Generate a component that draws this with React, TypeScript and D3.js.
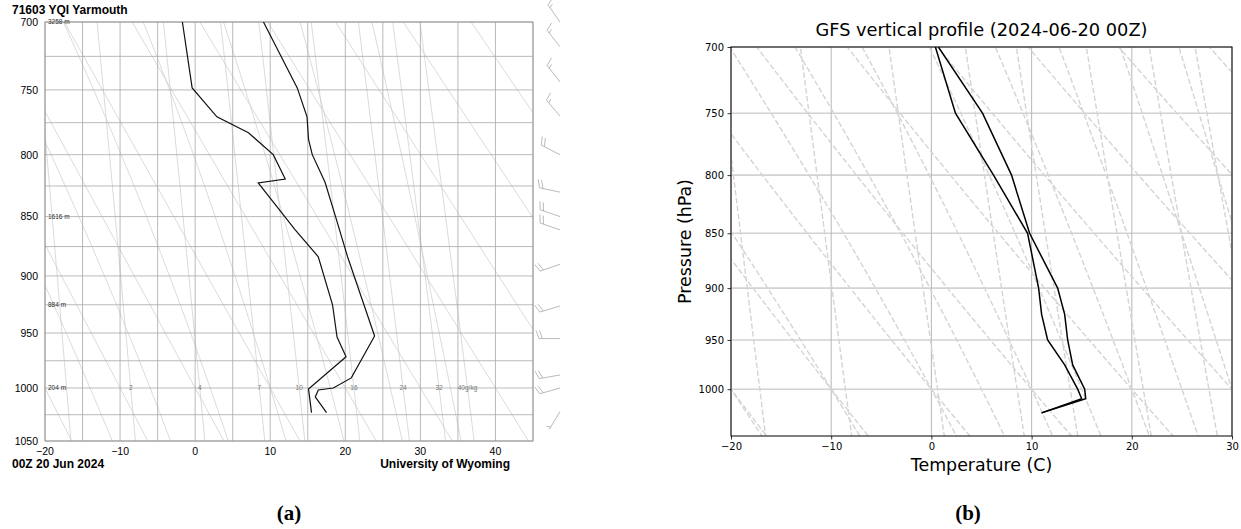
import { useEffect, useRef } from "react";
import * as d3 from "d3";

// ---- (a) University of Wyoming sounding, 71603 YQI Yarmouth ----
const obsTempPressure = [700, 748.5, 770.5, 788, 800, 822, 850, 883.6, 952.7, 990.7, 1000, 1001.9, 1008.3, 1023];
const obsTemp = [9.1, 13.6, 14.9, 15.1, 15.6, 17.3, 18.7, 20.3, 23.9, 20.8, 18.4, 16.4, 16.0, 17.5];
const obsDewPressure = [700, 748.5, 770.5, 782.8, 800, 819.4, 822.6, 860.8, 883.6, 925, 953.6, 971.4, 1000.9, 1023];
const obsDew = [-1.7, -0.4, 2.9, 7.1, 10.4, 12.0, 8.4, 13.3, 16.4, 18.3, 18.9, 20.1, 15.1, 15.5];

const barbPressure = [700, 718, 744, 770, 800, 830, 850, 861, 890, 926, 955, 988, 1000, 1022];
const barbDirection = [325, 322, 322, 320, 297, 282, 289, 289, 251, 253, 270, 260, 254, 211];
const barbSpeed = [15, 15, 15, 15, 20, 20, 20, 20, 20, 20, 20, 20, 20, 5];

const heightPressure = [700, 850, 925, 1000];
const heightText = ["3258 m", "1616 m", "884 m", "204 m"];

const isobarsA = [700, 725, 750, 775, 800, 825, 850, 875, 900, 925, 950, 975, 1000, 1025, 1050];
const isothermsA = [-20, -15, -10, -5, 0, 5, 10, 15, 20, 25, 30, 35, 40, 45];
const pressureTicksA = [700, 750, 800, 850, 900, 950, 1000, 1050];
const tempTicksA = [-20, -10, 0, 10, 20, 30, 40];
const dryAdiabatsA = [-20, -10, 0, 10, 20, 30, 40, 50, 60, 70, 80, 90, 100];
const moistAdiabatsA = [-14, -6, 2, 10, 18, 26, 34];
const mixingRatiosA = [1, 2, 4, 7, 10, 16, 24, 32, 40];
const mixingLabelsA = ["", "2", "4", "7", "10", "16", "24", "32", "40g/kg"];

// ---- (b) GFS vertical profile ----
const gfsPressure = [700, 750, 800, 850, 900, 925, 950, 975, 1000, 1010, 1025];
const gfsTemp = [0.7, 5.1, 8.0, 9.8, 12.6, 13.3, 13.6, 14.1, 15.3, 15.4, 11.0];
const gfsDew = [0.4, 2.4, 6.2, 9.6, 10.7, 11.0, 11.6, 13.3, 14.6, 15.0, 11.0];

const pressureTicksB = [700, 750, 800, 850, 900, 950, 1000];
const tempTicksB = [-20, -10, 0, 10, 20, 30];
const dryAdiabatsB = [-30, -20, -10, 0, 10, 20, 30, 40, 50, 60, 70, 80, 90, 100, 110, 120];
const moistAdiabatsB = [-50, -40, -30, -20, -10, 0, 5, 10, 15, 20, 25, 30, 35, 40];
const mixingRatiosB = [0.4, 1, 2, 4, 7, 10, 16, 24, 32];

type PT = { p: number; t: number };

const KAPPA = 0.2857;
const Rd = 287.04;
const Cp = 1005.7;
const Lv = 2.501e6;
const EPS = 0.622;

const satVap = (tc: number) => 6.112 * Math.exp((17.67 * tc) / (tc + 243.5));

function dryLine(thetaC: number, ps: number[]): PT[] {
  return ps.map((p) => ({ p, t: (thetaC + 273.15) * Math.pow(p / 1000, KAPPA) - 273.15 }));
}

function mixingLine(w: number, ps: number[]): PT[] {
  return ps.map((p) => {
    const e = (w * p) / (622 + w);
    const l = Math.log(e / 6.112);
    return { p, t: (243.5 * l) / (17.67 - l) };
  });
}

function moistSlope(p: number, tK: number) {
  const e = satVap(tK - 273.15);
  const rs = (EPS * e) / (p - e);
  return (Rd * tK + Lv * rs) / (Cp + (Lv * Lv * rs * EPS) / (Rd * tK * tK)) / p;
}

function integrate(t0: number, pFrom: number, pTo: number, h: number): PT[] {
  const out: PT[] = [];
  let t = t0 + 273.15;
  let p = pFrom;
  out.push({ p, t: t0 });
  const n = Math.ceil(Math.abs(pTo - pFrom) / Math.abs(h));
  for (let i = 0; i < n; i++) {
    const k1 = moistSlope(p, t);
    const k2 = moistSlope(p + h / 2, t + (h / 2) * k1);
    const k3 = moistSlope(p + h / 2, t + (h / 2) * k2);
    const k4 = moistSlope(p + h, t + h * k3);
    t += (h / 6) * (k1 + 2 * k2 + 2 * k3 + k4);
    p += h;
    out.push({ p, t: t - 273.15 });
  }
  return out;
}

function moistLine(t0: number, pTop: number, pBottom: number): PT[] {
  const up = integrate(t0, 1000, pTop, -2).reverse();
  const down = integrate(t0, 1000, pBottom, 2).slice(1);
  return up.concat(down);
}

const minus = (v: number) => String(v).replace("-", "\u2212");

function drawBarb(
  g: d3.Selection<SVGGElement, unknown, null, undefined>,
  x0: number,
  y0: number,
  dir: number,
  speed: number
) {
  const L = 21;
  const rad = (dir * Math.PI) / 180;
  const ux = Math.sin(rad);
  const uy = -Math.cos(rad);
  const px = -uy;
  const py = ux;
  const tx = x0 + ux * L;
  const ty = y0 + uy * L;
  const stroke = "#a8a8a8";
  g.append("line")
    .attr("x1", x0).attr("y1", y0).attr("x2", tx).attr("y2", ty)
    .attr("stroke", stroke).attr("stroke-width", 0.8);
  let rest = speed;
  let pos = 0;
  if (rest < 10) pos = 3;
  while (rest >= 10) {
    const sx = tx - ux * pos;
    const sy = ty - uy * pos;
    g.append("line")
      .attr("x1", sx).attr("y1", sy)
      .attr("x2", sx + px * 8 + ux * 3).attr("y2", sy + py * 8 + uy * 3)
      .attr("stroke", stroke).attr("stroke-width", 0.8);
    pos += 3.5;
    rest -= 10;
  }
  if (rest >= 5) {
    const sx = tx - ux * pos;
    const sy = ty - uy * pos;
    g.append("line")
      .attr("x1", sx).attr("y1", sy)
      .attr("x2", sx + px * 4 + ux * 1.5).attr("y2", sy + py * 4 + uy * 1.5)
      .attr("stroke", stroke).attr("stroke-width", 0.8);
  }
}

export default function App() {
  const ref = useRef<SVGSVGElement>(null);

  useEffect(() => {
    if (!ref.current) return;
    const svg = d3.select(ref.current);
    svg.selectAll("*").remove();
    const defs = svg.append("defs");

    // ================= panel (a) =================
    const ax = { left: 45, right: 533, top: 22, bottom: 441 };
    const xA = d3.scaleLinear().domain([-20, 45]).range([ax.left, ax.right]);
    const yA = d3.scalePow().exponent(0.286).domain([700, 1050]).range([ax.top, ax.bottom]);
    defs.append("clipPath").attr("id", "clipA").append("rect")
      .attr("x", ax.left).attr("y", ax.top)
      .attr("width", ax.right - ax.left).attr("height", ax.bottom - ax.top);

    const gA = svg.append("g").style("font-family", "'Liberation Sans', Arial, sans-serif");
    const lineA = d3.line<PT>().x((d) => xA(d.t)).y((d) => yA(d.p));
    const psA = d3.range(690, 1061, 5);

    const iso = gA.append("g").attr("clip-path", "url(#clipA)")
      .attr("fill", "none").attr("stroke", "#cdcdcd").attr("stroke-width", 0.75);
    dryAdiabatsA.forEach((th) => iso.append("path").attr("d", lineA(dryLine(th, psA))));
    moistAdiabatsA.forEach((t0) => iso.append("path").attr("d", lineA(moistLine(t0, 690, 1060))));
    mixingRatiosA.forEach((w) => iso.append("path").attr("d", lineA(mixingLine(w, psA))));

    const grid = gA.append("g").attr("stroke", "#a8a8a8").attr("stroke-width", 0.8);
    isobarsA.forEach((p) =>
      grid.append("line").attr("x1", ax.left).attr("x2", ax.right).attr("y1", yA(p)).attr("y2", yA(p))
    );
    isothermsA.forEach((t) =>
      grid.append("line").attr("x1", xA(t)).attr("x2", xA(t)).attr("y1", ax.top).attr("y2", ax.bottom)
    );
    gA.append("rect")
      .attr("x", ax.left).attr("y", ax.top)
      .attr("width", ax.right - ax.left).attr("height", ax.bottom - ax.top)
      .attr("fill", "none").attr("stroke", "#999").attr("stroke-width", 1);

    // mixing ratio labels along 1000 hPa
    mixingRatiosA.forEach((w, i) => {
      if (!mixingLabelsA[i]) return;
      gA.append("text")
        .attr("x", xA(mixingLine(w, [1000])[0].t)).attr("y", yA(1000) + 2.3)
        .attr("text-anchor", "middle").attr("font-size", 6.5).attr("fill", "#777")
        .text(mixingLabelsA[i]);
    });
    // height labels
    heightPressure.forEach((p, i) => {
      gA.append("text")
        .attr("x", ax.left + 3).attr("y", yA(p) + 2.3)
        .attr("font-size", 6.5).attr("fill", "#333")
        .text(heightText[i]);
    });

    // profiles
    const profA = gA.append("g").attr("fill", "none").attr("stroke", "#111").attr("stroke-width", 1.2);
    profA.append("path").attr("d", lineA(obsTempPressure.map((p, i) => ({ p, t: obsTemp[i] }))));
    profA.append("path").attr("d", lineA(obsDewPressure.map((p, i) => ({ p, t: obsDew[i] }))));

    // axes labels
    pressureTicksA.forEach((p) =>
      gA.append("text").attr("x", 38).attr("y", yA(p) + 3.9)
        .attr("text-anchor", "end").attr("font-size", 10.5).text(String(p))
    );
    tempTicksA.forEach((t) =>
      gA.append("text").attr("x", xA(t)).attr("y", 455)
        .attr("text-anchor", "middle").attr("font-size", 10.5).text(minus(t))
    );
    gA.append("text").attr("x", 12).attr("y", 14)
      .attr("font-size", 12).attr("font-weight", "bold").text("71603 YQI Yarmouth");
    gA.append("text").attr("x", 12).attr("y", 468)
      .attr("font-size", 12).attr("font-weight", "bold").text("00Z 20 Jun 2024");
    gA.append("text").attr("x", 510).attr("y", 468).attr("text-anchor", "end")
      .attr("font-size", 12).attr("font-weight", "bold").text("University of Wyoming");

    // wind barbs
    const barbs = gA.append("g");
    barbPressure.forEach((p, i) => drawBarb(barbs, 560, yA(p), barbDirection[i], barbSpeed[i]));

    // ================= panel (b) =================
    const bx = { left: 731, right: 1232, top: 47, bottom: 436 };
    const xB = d3.scaleLinear().domain([-20, 30]).range([bx.left, bx.right]);
    const yB = d3.scaleLog().domain([700, 1050]).range([bx.top, bx.bottom]);
    defs.append("clipPath").attr("id", "clipB").append("rect")
      .attr("x", bx.left).attr("y", bx.top)
      .attr("width", bx.right - bx.left).attr("height", bx.bottom - bx.top);

    const gB = svg.append("g").style("font-family", "'DejaVu Sans', sans-serif");
    const lineB = d3.line<PT>().x((d) => xB(d.t)).y((d) => yB(d.p));
    const psB = d3.range(690, 1061, 5);

    const gridB = gB.append("g");
    pressureTicksB.forEach((p) =>
      gridB.append("line").attr("x1", bx.left).attr("x2", bx.right).attr("y1", yB(p)).attr("y2", yB(p))
        .attr("stroke", "#d2d2d2").attr("stroke-width", 1.6)
    );
    tempTicksB.forEach((t) =>
      gridB.append("line").attr("x1", xB(t)).attr("x2", xB(t)).attr("y1", bx.top).attr("y2", bx.bottom)
        .attr("stroke", "#bdbdbd").attr("stroke-width", 1.1)
    );

    const isoB = gB.append("g").attr("clip-path", "url(#clipB)")
      .attr("fill", "none").attr("stroke", "#d4d4d4").attr("stroke-width", 1.4)
      .attr("stroke-dasharray", "5.5,2.4");
    dryAdiabatsB.forEach((th) => isoB.append("path").attr("d", lineB(dryLine(th, psB))));
    moistAdiabatsB.forEach((t0) => isoB.append("path").attr("d", lineB(moistLine(t0, 690, 1060))));
    mixingRatiosB.forEach((w) => isoB.append("path").attr("d", lineB(mixingLine(w, psB))));

    const profB = gB.append("g").attr("clip-path", "url(#clipB)")
      .attr("fill", "none").attr("stroke", "#000").attr("stroke-width", 1.5);
    profB.append("path").attr("d", lineB(gfsPressure.map((p, i) => ({ p, t: gfsTemp[i] }))));
    profB.append("path").attr("d", lineB(gfsPressure.map((p, i) => ({ p, t: gfsDew[i] }))));

    gB.append("rect")
      .attr("x", bx.left).attr("y", bx.top)
      .attr("width", bx.right - bx.left).attr("height", bx.bottom - bx.top)
      .attr("fill", "none").attr("stroke", "#000").attr("stroke-width", 1);

    const xAxisB = gB.append("g").attr("transform", `translate(0,${bx.bottom})`)
      .call(d3.axisBottom(xB).tickValues(tempTicksB).tickSize(3.5).tickPadding(3.5).tickSizeOuter(0));
    const yAxisB = gB.append("g").attr("transform", `translate(${bx.left},0)`)
      .call(
        d3.axisLeft(yB).tickValues(pressureTicksB).tickFormat((d) => String(d))
          .tickSize(3.5).tickPadding(3.5).tickSizeOuter(0)
      );
    [xAxisB, yAxisB].forEach((a) => {
      a.select(".domain").remove();
      a.selectAll("text").attr("font-size", 10).attr("font-family", "'DejaVu Sans', sans-serif").attr("fill", "#000");
      a.selectAll("line").attr("stroke", "#000").attr("stroke-width", 0.8);
    });

    gB.append("text").attr("x", (bx.left + bx.right) / 2).attr("y", 36)
      .attr("text-anchor", "middle").attr("font-size", 17.8).text("GFS vertical profile (2024-06-20 00Z)");
    gB.append("text").attr("x", (bx.left + bx.right) / 2).attr("y", 471)
      .attr("text-anchor", "middle").attr("font-size", 17.4).text("Temperature (C)");
    gB.append("text")
      .attr("transform", `translate(691,${(bx.top + bx.bottom) / 2}) rotate(-90)`)
      .attr("text-anchor", "middle").attr("font-size", 17.4).text("Pressure (hPa)");

    // ================= sub-figure captions =================
    svg.append("text").attr("x", 289).attr("y", 520).attr("text-anchor", "middle")
      .attr("font-family", "'Liberation Serif', 'Times New Roman', serif")
      .attr("font-weight", "bold").attr("font-size", 21).text("(a)");
    svg.append("text").attr("x", 968).attr("y", 520).attr("text-anchor", "middle")
      .attr("font-family", "'Liberation Serif', 'Times New Roman', serif")
      .attr("font-weight", "bold").attr("font-size", 21).text("(b)");
  }, []);

  return (
    <svg
      ref={ref}
      width={1241}
      height={529}
      style={{ position: "absolute", left: 0, top: 0, background: "#fff" }}
    />
  );
}
